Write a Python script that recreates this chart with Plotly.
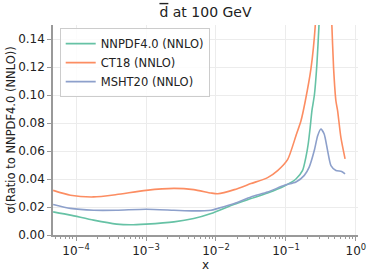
import plotly.graph_objects as go

# ---- data ----
nnpdf_x = [4.7e-5, 8.3e-5, 1.78e-4, 3.8e-4, 6.0e-4, 1.0e-3, 2.5e-3, 4.8e-3, 8.5e-3,
           1.83e-2, 3.16e-2, 5.47e-2, 9.5e-2, 0.139, 0.173, 0.193, 0.208, 0.222,
           0.235, 0.255, 0.277, 0.296, 0.33, 0.4]
nnpdf_y = [0.0165, 0.0142, 0.0106, 0.0078, 0.0073, 0.0078, 0.0094, 0.0118, 0.0154,
           0.022, 0.026, 0.030, 0.035, 0.040, 0.0461, 0.0556, 0.065, 0.0768,
           0.0887, 0.100, 0.122, 0.149, 0.20, 0.28]

ct18_x = [4.7e-5, 8.3e-5, 1.78e-4, 3.8e-4, 1.0e-3, 2.5e-3, 4.8e-3, 8.5e-3, 1.06e-2,
          1.83e-2, 3.16e-2, 5.47e-2, 7.6e-2, 0.106, 0.139, 0.164, 0.189,
          0.228, 0.262, 0.347, 0.454, 0.48, 0.518, 0.548, 0.61, 0.70]
ct18_y = [0.0319, 0.0284, 0.0272, 0.0289, 0.0319, 0.0333, 0.0324, 0.0300, 0.0295,
          0.0324, 0.0367, 0.041, 0.046, 0.054, 0.0709, 0.0816, 0.0957,
          0.119, 0.149, 0.30, 0.149, 0.119, 0.0957, 0.0887, 0.0697, 0.0544]

msht_x = [4.7e-5, 8.3e-5, 1.78e-4, 3.8e-4, 1.0e-3, 2.5e-3, 4.8e-3, 8.5e-3, 1.06e-2,
          1.83e-2, 3.16e-2, 5.47e-2, 9.5e-2, 0.139, 0.183, 0.215, 0.254, 0.284,
          0.316, 0.352, 0.394, 0.44, 0.518, 0.625, 0.70]
msht_y = [0.0218, 0.019, 0.0177, 0.0177, 0.0184, 0.0177, 0.0172, 0.0177, 0.019,
          0.0225, 0.0272, 0.0307, 0.0355, 0.0378, 0.0426, 0.0485, 0.0603, 0.0709,
          0.0757, 0.0721, 0.0603, 0.0496, 0.0461, 0.0454, 0.0437]

series_names = ["NNPDF4.0 (NNLO)", "CT18 (NNLO)", "MSHT20 (NNLO)"]
series_colors = ["#66c2a5", "#fc8d62", "#8da0cb"]

x_tickvals = [1e-4, 1e-3, 1e-2, 1e-1, 1e0]
x_ticktext = ["10<sup>\u22124</sup>", "10<sup>\u22123</sup>", "10<sup>\u22122</sup>",
              "10<sup>\u22121</sup>", "10<sup>0</sup>"]
y_tickvals = [0.0, 0.02, 0.04, 0.06, 0.08, 0.10, 0.12, 0.14]

FONT = "DejaVu Sans"

fig = go.Figure()
for xs, ys, name, col in zip([nnpdf_x, ct18_x, msht_x], [nnpdf_y, ct18_y, msht_y],
                             series_names, series_colors):
    fig.add_trace(go.Scatter(x=xs, y=ys, mode="lines", name=name,
                             line=dict(color=col, width=1.6, shape="spline", smoothing=0.6)))

fig.update_layout(
    width=374, height=276,
    margin=dict(l=53, r=16, t=25, b=41, autoexpand=False),
    paper_bgcolor="white", plot_bgcolor="white",
    font=dict(family=FONT, size=12, color="#222"),
    title=dict(text="<span style='text-decoration:overline'>d</span> at 100 GeV",
               x=0.5, xref="paper", xanchor="center",
               y=0.9565, yref="container", yanchor="middle",
               font=dict(size=14, family=FONT, color="#222")),
    showlegend=True,
    legend=dict(x=0.022, y=0.985, xanchor="left", yanchor="top",
                bgcolor="rgba(255,255,255,0.85)", bordercolor="#cccccc", borderwidth=1,
                font=dict(size=11.5, family=FONT, color="#222"),
                tracegroupgap=0, itemwidth=30),
)

fig.update_xaxes(
    type="log", range=[-4.33, 0.03], automargin=False,
    tickvals=x_tickvals, ticktext=x_ticktext,
    showline=True, linecolor="#999999", linewidth=1.5, mirror=False,
    ticks="outside", ticklen=4, tickcolor="#999999", tickwidth=1,
    showgrid=True, gridcolor="#ececec", gridwidth=1, zeroline=False,
    minor=dict(ticks="outside", ticklen=2, tickcolor="#999999", dtick="D1", showgrid=False),
    title=dict(text="x", standoff=0, font=dict(size=12, family=FONT)),
    tickfont=dict(size=12, family=FONT, color="#222"),
)
fig.update_yaxes(
    range=[0, 0.15], tickvals=y_tickvals, tickformat=".2f", automargin=False,
    showline=True, linecolor="#999999", linewidth=1.5, mirror=False,
    ticks="outside", ticklen=4, tickcolor="#999999", tickwidth=1,
    showgrid=True, gridcolor="#ececec", gridwidth=1, zeroline=False,
    title=dict(text="\u03c3(Ratio to NNPDF4.0 (NNLO))", standoff=0, font=dict(size=11.5, family=FONT)),
    tickfont=dict(size=12, family=FONT, color="#222"),
)

fig.write_html("out.html", config={"displayModeBar": False},
               post_script="document.body.style.margin='0';document.body.style.padding='0';")
